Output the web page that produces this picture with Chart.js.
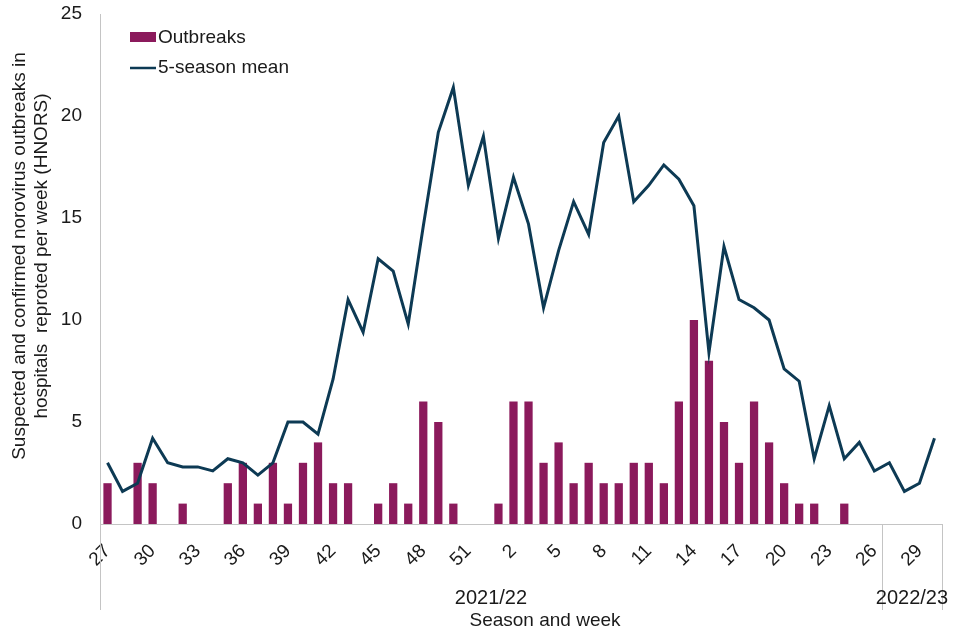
<!DOCTYPE html>
<html><head><meta charset="utf-8">
<script src="https://cdn.jsdelivr.net/npm/chart.js@4"></script>
<style>html,body{margin:0;padding:0;background:#fff}#wrap{width:960px;height:640px}</style>
</head><body><div id="wrap"><canvas id="c" width="960" height="640"></canvas></div>
<script>
const weeks = [27,28,29,30,31,32,33,34,35,36,37,38,39,40,41,42,43,44,45,46,47,48,49,50,51,52,
  1,2,3,4,5,6,7,8,9,10,11,12,13,14,15,16,17,18,19,20,21,22,23,24,25,26,27,28,29,30];
const outbreaks = [2,0,3,2,0,1,0,0,2,3,1,3,1,3,4,2,2,0,1,2,1,6,5,1,0,0,
  1,6,6,3,4,2,3,2,2,3,3,2,6,10,8,5,3,6,4,2,1,1,0,1,0,0,0,0,0,0];
const fiveSeasonMean = [3.0,1.6,2.0,4.2,3.0,2.8,2.8,2.6,3.2,3.0,2.4,3.0,5.0,5.0,4.4,7.1,11.0,9.4,13.0,12.4,9.8,14.6,19.2,21.4,16.6,19.0,
  14.0,17.0,14.7,10.6,13.4,15.8,14.2,18.7,20.0,15.8,16.6,17.6,16.9,15.6,8.4,13.6,11.0,10.6,10.0,7.6,7.0,3.2,5.8,3.2,4.0,2.6,3.0,1.6,2.0,4.2];
const seasonNames = ['2021/22','2022/23'];
const seasonStart = [0,52];
const seasonEnd = [51,55];
const yTitleLines = ['Suspected and confirmed norovirus outbreaks in','hospitals  reproted per week (HNORS)'];
const xTitle = 'Season and week';
const seriesNames = ['Outbreaks','5-season mean'];

const FONT = '"Liberation Sans", Arial, sans-serif';
const BAR = '#8B1A5C', LINE = '#0D3A54', AXIS = '#C4C4C4', TXT = '#1a1a1a';

const extras = {
  id: 'extras',
  afterDraw(chart) {
    const ctx = chart.ctx, x = chart.scales.x, ca = chart.chartArea;
    ctx.save();
    ctx.strokeStyle = AXIS; ctx.lineWidth = 1;
    const bounds = [ca.left];
    for (let s = 0; s < seasonNames.length - 1; s++) {
      bounds.push((x.getPixelForValue(seasonEnd[s]) + x.getPixelForValue(seasonStart[s+1])) / 2);
    }
    bounds.push(ca.right);
    bounds.forEach(b => { const px = Math.round(b) + 0.5; ctx.beginPath(); ctx.moveTo(px, ca.bottom); ctx.lineTo(px, 610); ctx.stroke(); });
    ctx.fillStyle = TXT; ctx.font = '20px ' + FONT; ctx.textAlign = 'center'; ctx.textBaseline = 'middle';
    for (let s = 0; s < seasonNames.length; s++) {
      ctx.fillText(seasonNames[s], (bounds[s] + bounds[s+1]) / 2, 598);
    }
    ctx.font = '19px ' + FONT;
    ctx.fillText(xTitle, 545, 621);
    ctx.save();
    ctx.translate(0, 256); ctx.rotate(-Math.PI / 2);
    ctx.fillText(yTitleLines[0], 0, 20);
    ctx.fillText(yTitleLines[1], 0, 42);
    ctx.restore();
    ctx.textAlign = 'left';
    ctx.fillStyle = BAR; ctx.fillRect(130, 32, 26, 10);
    ctx.fillStyle = TXT; ctx.fillText(seriesNames[0], 158, 38);
    ctx.strokeStyle = LINE; ctx.lineWidth = 2.5;
    ctx.beginPath(); ctx.moveTo(130, 68); ctx.lineTo(156, 68); ctx.stroke();
    ctx.fillText(seriesNames[1], 158, 68);
    ctx.restore();
  }
};

new Chart(document.getElementById('c'), {
  type: 'bar',
  data: {
    labels: weeks.map(String),
    datasets: [
      { type: 'line', label: seriesNames[1], data: fiveSeasonMean, borderColor: LINE, borderWidth: 3,
        pointRadius: 0, tension: 0, fill: false, order: 0 },
      { type: 'bar', label: seriesNames[0], data: outbreaks, backgroundColor: BAR,
        borderWidth: 0, barPercentage: 0.55, categoryPercentage: 1.0, order: 1 }
    ]
  },
  options: {
    responsive: false, animation: false, devicePixelRatio: 1,
    layout: { padding: { top: 14, right: 18, bottom: 0, left: 0 } },
    plugins: { legend: { display: false }, tooltip: { enabled: false } },
    scales: {
      x: {
        grid: { display: false, drawTicks: false },
        border: { display: true, color: AXIS, width: 1 },
        ticks: { autoSkip: false, maxRotation: 45, minRotation: 45, padding: 16, color: TXT,
          font: { size: 19, family: FONT },
          callback: function(v, i) { return i % 3 === 0 ? weeks[i] : ''; } },
        afterFit(scale) { scale.height = 116; scale.paddingTop = 0; scale.paddingBottom = 0; scale.paddingLeft = 0; scale.paddingRight = 0; }
      },
      y: {
        min: 0, max: 25,
        grid: { display: false, drawTicks: false },
        border: { display: true, color: AXIS, width: 1 },
        ticks: { stepSize: 5, padding: 18, color: TXT, font: { size: 19, family: FONT } },
        afterFit(scale) { scale.width = 100; scale.paddingTop = 0; scale.paddingBottom = 0; }
      }
    }
  },
  plugins: [extras]
});
</script>
</body></html>
